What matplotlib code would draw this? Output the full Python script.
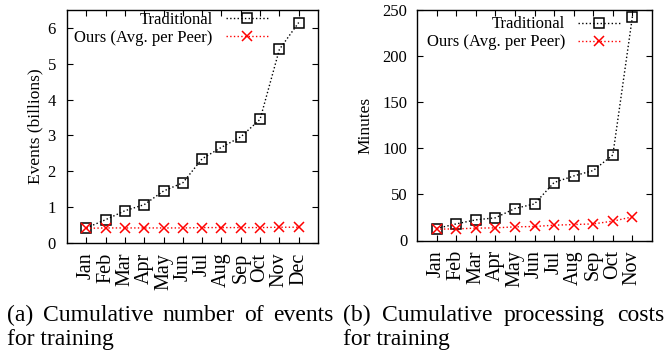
import matplotlib.pyplot as plt

plt.rcParams['font.family'] = ['Liberation Serif', 'DejaVu Serif']

months_a = ['Jan', 'Feb', 'Mar', 'Apr', 'May', 'Jun', 'Jul', 'Aug', 'Sep', 'Oct', 'Nov', 'Dec']
events_trad = [0.42, 0.65, 0.90, 1.07, 1.45, 1.68, 2.35, 2.67, 2.96, 3.45, 5.40, 6.15]
events_ours = [0.41, 0.42, 0.42, 0.42, 0.42, 0.42, 0.43, 0.43, 0.43, 0.43, 0.44, 0.44]

months_b = months_a[:11]
minutes_trad = [13, 18, 22.4, 24.6, 34.7, 39.7, 62.9, 70, 75.9, 92.8, 242.8]
minutes_ours = [12.3, 12.6, 13.4, 13.7, 14.8, 15.2, 16.6, 17.3, 18, 21, 25.6]

W, H = 667, 352
fig = plt.figure(figsize=(W / 100, H / 100), dpi=100)

ax1 = fig.add_axes([67 / W, 1 - 243 / H, 251 / W, 233 / H])
ax2 = fig.add_axes([417 / W, 1 - 240.5 / H, 235 / W, 230.5 / H])


def draw(ax, months, trad, ours, ymax, yticks, ylabel, label_x, leg_x, leg_y, ypad):
    x = list(range(len(months)))
    ax.plot(x, trad, ls=':', color='black', lw=1, marker='s', ms=6.5,
            mfc='none', mec='black', mew=1.1, label='Traditional')
    ax.plot(x, ours, ls=':', color='red', lw=1, marker='x', ms=6.5,
            mew=1.1, label='Ours (Avg. per Peer)')
    ax.set_xlim(-1, len(months))
    ax.set_ylim(0, ymax)
    ax.set_xticks(x)
    ax.set_xticklabels(months, rotation=90, fontsize=14.5)
    ax.set_yticks(yticks)
    ax.tick_params(axis='both', direction='in', length=4, width=0.8,
                   top=True, right=True)
    ax.tick_params(axis='y', pad=ypad, labelsize=12)
    ax.tick_params(axis='x', pad=7)
    for s in ax.spines.values():
        s.set_linewidth(1)
    ax.set_ylabel(ylabel, fontsize=12.5)
    ax.yaxis.set_label_coords(label_x, 0.5)
    ax.legend(loc='upper right', bbox_to_anchor=(leg_x, leg_y), frameon=False,
              markerfirst=False, fontsize=12, handlelength=2.5, handletextpad=0.8,
              labelspacing=0.12, borderpad=0, borderaxespad=0)


draw(ax1, months_a, events_trad, events_ours, 6.5, range(0, 7),
     'Events (billions)', -0.096, 0.80, 0.99, 8)
draw(ax2, months_b, minutes_trad, minutes_ours, 250, range(0, 251, 50),
     'Minutes', -0.187, 0.864, 0.972, 7)

# justified captions
cap_size = 17
lines = [
    (['(a)', 'Cumulative', 'number', 'of', 'events'], 7, 333),
    (['(b)', 'Cumulative', 'processing', 'costs'], 343, 664),
]
fig.canvas.draw()
r = fig.canvas.get_renderer()
for words, x0, x1 in lines:
    texts = [fig.text(0, 1 - 321 / H, w, fontsize=cap_size, va='baseline') for w in words]
    widths = [t.get_window_extent(r).width for t in texts]
    gap = (x1 - x0 - sum(widths)) / (len(words) - 1)
    x = x0
    for t, w in zip(texts, widths):
        t.set_x(x / W)
        x += w + gap
    fig.text(x0 / W, 1 - 345 / H, 'for training', fontsize=cap_size, va='baseline')

fig.savefig('out.png', dpi=100)
